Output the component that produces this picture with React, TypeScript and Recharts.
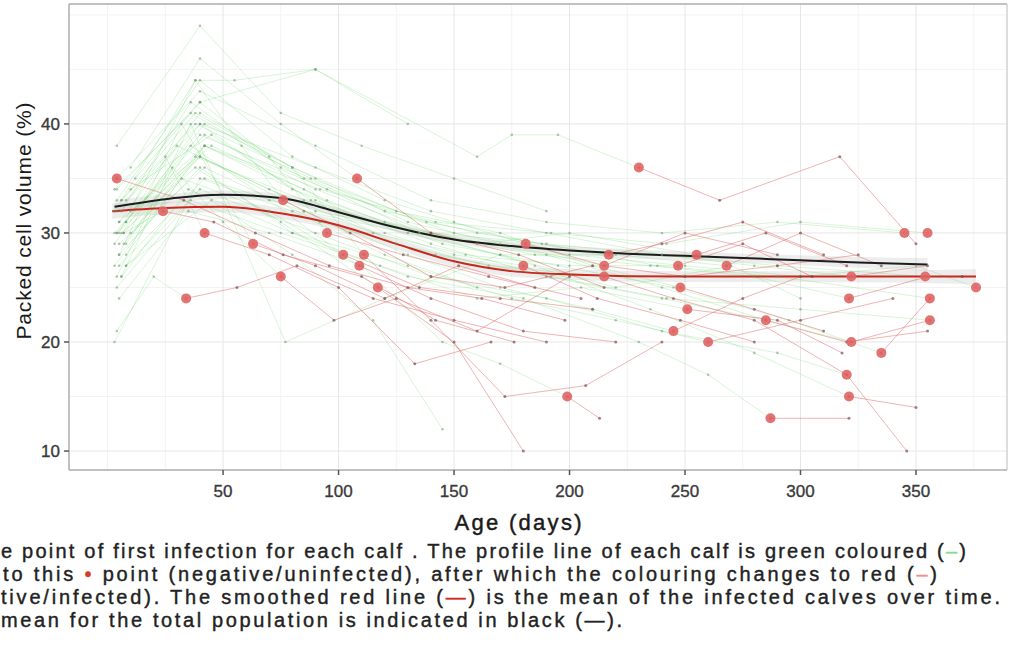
import { Area, CartesianGrid, ComposedChart, Line, ReferenceLine, Scatter, XAxis, YAxis } from "recharts";

type Pt = [number, number];

const FONT = "Liberation Sans, Arial, Helvetica, sans-serif";

const xTicks = [50, 100, 150, 200, 250, 300, 350];
const yTicks = [10, 20, 30, 40];
const xMinor = [0, 25, 75, 125, 175, 225, 275, 325, 375];
const yMinor = [15, 25, 35, 45, 50];
const xDomain: [number, number] = [-16.7, 389.4];
const yDomain: [number, number] = [8.26, 51];

// PCV profile per calf: [age in days, packed cell volume %]
const profiles: Pt[][] = [
  [[4, 35], [33, 33], [64, 30], [96, 27], [130, 25], [162, 24], [198, 22]],
  [[7, 30], [24, 32], [46, 31], [76, 28], [110, 26], [142, 22], [176, 20]],
  [[4, 21], [20, 26], [34, 24], [56, 25], [82, 27], [115, 24], [150, 22], [190, 20]],
  [[8, 33], [25, 37], [42, 30], [70, 28], [100, 25], [133, 18], [166, 20]],
  [[5, 28], [32, 40], [63, 29], [90, 27], [120, 24], [152, 27], [185, 25]],
  [[3, 32], [38, 44], [58, 38], [76, 33], [105, 30], [140, 26], [172, 25], [210, 27]],
  [[6, 26], [28, 36], [50, 31], [75, 26], [98, 22], [125, 24], [160, 21], [200, 26]],
  [[4, 34], [40, 42], [70, 37], [95, 30], [128, 28], [165, 26], [205, 24]],
  [[10, 36], [40, 46], [75, 40], [108, 35], [140, 30], [178, 28], [215, 25]],
  [[8, 29], [36, 38], [70, 33], [102, 28], [135, 25], [170, 24], [210, 23]],
  [[5, 31], [40, 41], [80, 36], [111, 28], [140, 22], [172, 15], [207, 16], [240, 20]],
  [[3, 27], [32, 35], [70, 32], [109, 27], [140, 24], [180, 21], [220, 20]],
  [[6, 30], [38, 36], [75, 31], [117, 25], [150, 20], [180, 10]],
  [[4, 33], [40, 44], [80, 37], [120, 33], [150, 31], [181, 29], [215, 27], [250, 30], [290, 28]],
  [[8, 28], [42, 38], [85, 34], [120, 30], [150, 28], [180, 27], [212, 24], [248, 22], [280, 20]],
  [[5, 24], [35, 32], [70, 30], [110, 27], [145, 20], [170, 18], [199, 15], [213, 13]],
  [[4, 30], [42, 40], [90, 35], [130, 31], [170, 29], [215, 27], [250, 26], [290, 27], [325, 28]],
  [[10, 34], [45, 39], [88, 33], [125, 29], [165, 27], [215, 26], [245, 24], [280, 22], [320, 17]],
  [[6, 32], [36, 42], [75, 36], [120, 32], [160, 30], [217, 28], [240, 29], [275, 31], [310, 28]],
  [[12, 35], [40, 42], [90, 45], [160, 37], [175, 39], [195, 39], [230, 36], [265, 33], [317, 37], [350, 29]],
  [[3, 29], [40, 40], [80, 34], [120, 31], [160, 29], [200, 30], [255, 28], [285, 30], [320, 27]],
  [[8, 31], [30, 38], [70, 34], [115, 30], [155, 28], [200, 27], [247, 27], [275, 29], [305, 26]],
  [[5, 27], [42, 35], [85, 32], [130, 30], [170, 28], [220, 28], [268, 27], [300, 30], [335, 27]],
  [[6, 33], [38, 41], [80, 36], [125, 32], [170, 30], [210, 27], [248, 25], [280, 23], [310, 21]],
  [[4, 25], [36, 33], [75, 30], [118, 27], [160, 24], [205, 25], [251, 23], [290, 22], [318, 19]],
  [[10, 30], [40, 37], [85, 32], [130, 28], [170, 25], [210, 23], [245, 21], [275, 24], [300, 26]],
  [[5, 28], [40, 36], [80, 30], [130, 27], [175, 24], [220, 22], [260, 20], [300, 22], [340, 24]],
  [[3, 30], [42, 39], [90, 34], [140, 30], [190, 28], [240, 25], [285, 22], [320, 20], [355, 21]],
  [[6, 26], [35, 34], [80, 30], [130, 26], [180, 24], [230, 20], [260, 17], [287, 13], [321, 13]],
  [[4, 32], [40, 40], [90, 36], [140, 32], [190, 30], [240, 28], [280, 27], [322, 26], [355, 27]],
  [[7, 29], [38, 37], [85, 33], [135, 30], [185, 28], [235, 27], [280, 26], [321, 24], [355, 26]],
  [[5, 31], [42, 38], [90, 33], [140, 29], [190, 26], [240, 24], [285, 22], [322, 20], [356, 22]],
  [[8, 27], [40, 34], [90, 30], [140, 26], [190, 24], [240, 21], [290, 19], [320, 17], [346, 10]],
  [[3, 34], [36, 41], [85, 35], [135, 30], [185, 27], [235, 23], [280, 19], [321, 15], [350, 14]],
  [[10, 32], [45, 38], [95, 33], [145, 29], [195, 27], [245, 25], [295, 22], [335, 19], [356, 24]],
  [[4, 30], [40, 37], [90, 32], [140, 30], [190, 29], [240, 28], [290, 27], [354, 26], [370, 26]],
  [[6, 33], [38, 40], [88, 35], [138, 31], [188, 29], [238, 27], [290, 26], [356, 24]],
  [[5, 29], [42, 36], [92, 31], [142, 28], [192, 26], [242, 24], [300, 23], [356, 22]],
  [[8, 31], [40, 39], [95, 34], [150, 30], [200, 28], [250, 27], [300, 26], [350, 27], [376, 25]],
  [[4, 35], [40, 43], [90, 38], [140, 33], [190, 31], [240, 30], [290, 31], [345, 30]],
  [[7, 30], [42, 38], [92, 34], [142, 31], [192, 30], [242, 29], [300, 31], [355, 30]],
  [[4, 38], [40, 49], [75, 41], [110, 38], [150, 35], [190, 32]],
  [[5, 30], [38, 44], [55, 44], [90, 45], [130, 40]],
  [[3, 20], [40, 35], [80, 32], [120, 28], [160, 25]],
  [[8, 27], [45, 33], [80, 28], [115, 22], [145, 12]],
  [[4, 26], [36, 40], [77, 20], [120, 24], [170, 28], [220, 25], [270, 27], [300, 24]]
];

// index of the first infected measurement in each profile (-1 = never infected)
const infectionIndex = [
  0, 1, 2, 2, 2, 3, 3, 3, 3, 3, 3, 3, 3, 5, 5, 6, 5, 5, 5, 6, 6, 6, 6, 6, 6, 6, 6, 6, 7, 7, 7, 7, 7, 7, 7, 7,
  7, 7, 8, 7, 7, -1, -1, -1, -1, -1
];

// smoothed means
const meanAll: Pt[] = [
  [3, 32.4], [25, 33.1], [50, 33.5], [75, 33.2], [100, 31.9], [125, 30.5], [150, 29.4], [175, 28.8],
  [200, 28.4], [225, 28.1], [250, 27.9], [275, 27.7], [300, 27.5], [325, 27.3], [355, 27.1]
];
const meanAllSe = [0.6, 0.45, 0.4, 0.4, 0.4, 0.4, 0.4, 0.4, 0.4, 0.4, 0.4, 0.4, 0.45, 0.5, 0.6];
const meanInfected: Pt[] = [
  [2, 32.0], [25, 32.3], [50, 32.4], [75, 31.8], [100, 30.7], [125, 29.0], [150, 27.4], [175, 26.5],
  [200, 26.2], [250, 26.0], [300, 26.0], [340, 26.0], [376, 26.0]
];
const meanInfectedSe = [0.7, 0.55, 0.5, 0.5, 0.5, 0.5, 0.5, 0.5, 0.5, 0.5, 0.5, 0.55, 0.7];

const toXY = (pts: Pt[]) => pts.map(([x, y]) => ({ x, y }));

const greenSegments = profiles.map((p, i) => toXY(infectionIndex[i] < 0 ? p : p.slice(0, infectionIndex[i] + 1)));
const redSegments = profiles
  .map((p, i) => (infectionIndex[i] < 0 ? [] : toXY(p.slice(infectionIndex[i]))))
  .filter((s) => s.length > 1);
const infectionPoints = profiles.flatMap((p, i) =>
  infectionIndex[i] < 0 ? [] : [{ x: p[infectionIndex[i]][0], y: p[infectionIndex[i]][1] }]
);
const allBand = meanAll.map(([x, y], i) => ({ x, r: [y - meanAllSe[i], y + meanAllSe[i]] }));
const infBand = meanInfected.map(([x, y], i) => ({ x, r: [y - meanInfectedSe[i], y + meanInfectedSe[i]] }));

function InfectionDot(props: { cx?: number; cy?: number }) {
  if (props.cx == null || props.cy == null) return null;
  return <circle cx={props.cx} cy={props.cy} r={5} fill="#e06464" fillOpacity={0.9} />;
}

const tickStyle = { fontSize: 17, fill: "#3a3a3a", stroke: "#3a3a3a", strokeWidth: 0.35, fontFamily: FONT };

export default function App() {
  return (
    <div style={{ position: "absolute", left: 0, top: 0, width: 1013, height: 649, background: "#fff", overflow: "hidden" }}>
      <ComposedChart width={1013} height={540} margin={{ top: 4, right: 6, bottom: 0, left: 0 }}>
        <CartesianGrid stroke="#f3f3f3" verticalValues={xMinor} horizontalValues={yMinor} />
        <CartesianGrid stroke="#e6e6e6" />
        <XAxis
          type="number"
          dataKey="x"
          domain={xDomain}
          allowDataOverflow
          ticks={xTicks}
          height={70}
          tickSize={5}
          tickMargin={10}
          stroke="#b0b0b0"
          strokeWidth={1.5}
          tickLine={{ stroke: "#555" }}
          tick={tickStyle}
          label={{
            content: () => (
              <text
                x={518}
                y={530}
                textAnchor="middle"
                fontSize={22}
                fill="#1a1a1a"
                stroke="#1a1a1a"
                strokeWidth={0.45}
                fontFamily={FONT}
                textLength={127}
              >
                Age (days)
              </text>
            )
          }}
        />
        <YAxis
          type="number"
          dataKey="y"
          domain={yDomain}
          allowDataOverflow
          ticks={yTicks}
          width={69}
          tickSize={5}
          tickMargin={4}
          stroke="#b0b0b0"
          strokeWidth={1.5}
          tickLine={{ stroke: "#555" }}
          tick={tickStyle}
          label={{
            content: () => (
              <text
                x={0}
                y={0}
                transform="translate(23,221) rotate(-90)"
                textAnchor="middle"
                dominantBaseline="central"
                fontSize={21}
                fill="#1a1a1a"
                fontFamily={FONT}
                textLength={237}
              >
                Packed cell volume (%)
              </text>
            )
          }}
        />
        <ReferenceLine y={yDomain[1]} stroke="#b0b0b0" strokeWidth={1.5} />
        <ReferenceLine x={xDomain[1]} stroke="#c8c8c8" strokeWidth={1} />
        {greenSegments.map((seg, i) => (
          <Line
            key={`g${i}`}
            data={seg}
            dataKey="y"
            type="linear"
            stroke="#4fcf4f"
            strokeOpacity={0.22}
            strokeWidth={1}
            dot={{ r: 1.3, fill: "#6a8f6a", fillOpacity: 0.5, stroke: "none" }}
            activeDot={false}
            isAnimationActive={false}
          />
        ))}
        {redSegments.map((seg, i) => (
          <Line
            key={`r${i}`}
            data={seg}
            dataKey="y"
            type="linear"
            stroke="#e06a6a"
            strokeOpacity={0.5}
            strokeWidth={1}
            dot={{ r: 1.5, fill: "#704848", fillOpacity: 0.65, stroke: "none" }}
            activeDot={false}
            isAnimationActive={false}
          />
        ))}
        <Scatter data={infectionPoints} dataKey="y" shape={InfectionDot} isAnimationActive={false} />
        <Area data={allBand} dataKey="r" type="monotone" stroke="none" fill="#9a9a9a" fillOpacity={0.18} isAnimationActive={false} />
        <Area data={infBand} dataKey="r" type="monotone" stroke="none" fill="#9a9a9a" fillOpacity={0.18} isAnimationActive={false} />
        <Line data={toXY(meanAll)} dataKey="y" type="monotone" stroke="#1c1c1c" strokeWidth={2} dot={false} activeDot={false} isAnimationActive={false} />
        <Line data={toXY(meanInfected)} dataKey="y" type="monotone" stroke="#c8281e" strokeWidth={2} dot={false} activeDot={false} isAnimationActive={false} />
      </ComposedChart>
      <svg
        width={1013}
        height={109}
        style={{ display: "block" }}
        fontFamily={FONT}
        fontSize={20}
        fill="#222"
        stroke="#222"
        strokeWidth={0.4}
      >
        <text x={1} y={18} textLength={965}>
          e point of first infection for each calf . The profile line of each calf is green coloured (<tspan fill="#8fd98f" stroke="#8fd98f">–</tspan>)
        </text>
        <text x={3} y={41} textLength={934}>
          to this <tspan fill="#d83a2a" stroke="#d83a2a">•</tspan> point  (negative/uninfected), after which the  colouring changes to red (<tspan fill="#f09090" stroke="#f09090">–</tspan>)
        </text>
        <text x={1} y={64} textLength={999}>
          tive/infected). The smoothed red line (<tspan fill="#d02a20" stroke="#d02a20">—</tspan>) is the mean of the infected calves over time.
        </text>
        <text x={1} y={87} textLength={621}>
          mean for the total population is indicated in black  (—).
        </text>
      </svg>
    </div>
  );
}
